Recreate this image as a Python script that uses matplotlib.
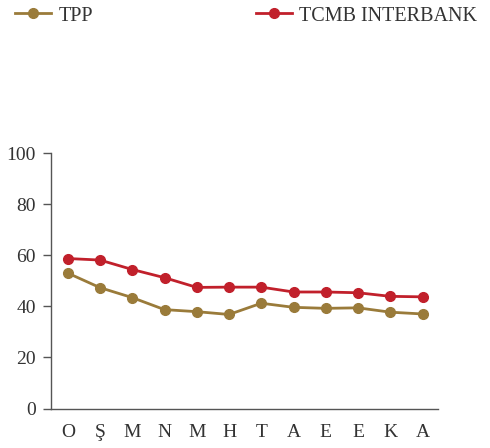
import matplotlib
matplotlib.use("Agg")
import matplotlib.pyplot as plt

months = ["O", "Ş", "M", "N", "M", "H", "T", "A", "E", "E", "K", "A"]
tpp = [53.0, 47.3, 43.4, 38.7, 37.9, 36.8, 41.2, 39.6, 39.2, 39.4, 37.7, 37.0]
tcmb = [58.7, 58.1, 54.4, 51.2, 47.4, 47.5, 47.5, 45.6, 45.6, 45.3, 43.9, 43.7]
yticks = [0, 20, 40, 60, 80, 100]

gold = "#9a7b3a"
red = "#c1202b"
txt = "#333333"

plt.rcParams['font.family'] = ['Liberation Serif', 'DejaVu Serif']

fig = plt.figure(figsize=(4.9, 4.48), dpi=100)
ax = fig.add_axes([51/490, 1-408.5/448, (438-51)/490, (408.5-153)/448])

x = list(range(len(months)))
l1, = ax.plot(x, tpp, color=gold, lw=2.0, marker='o', ms=7, zorder=3)
l2, = ax.plot(x, tcmb, color=red, lw=2.0, marker='o', ms=7, zorder=3)

ax.set_xlim(-0.52, 11.48)
ax.set_ylim(0, 100)
ax.set_yticks(yticks)
ax.set_xticks(x)
ax.set_xticklabels(months)
for s in ['top', 'right']:
    ax.spines[s].set_visible(False)
for s in ['left', 'bottom']:
    ax.spines[s].set_color('#555555')
    ax.spines[s].set_linewidth(1.0)
ax.tick_params(axis='y', length=6, width=1.0, color='#555555', labelsize=14, labelcolor=txt, pad=5)
ax.tick_params(axis='x', length=0, labelsize=14, labelcolor=txt, pad=11)

common = dict(frameon=False, fontsize=14.5, handlelength=1.8, handletextpad=0.35,
              labelcolor=txt, borderaxespad=0, borderpad=0.3, loc='center left')
fig.legend(handles=[l1], labels=["TPP"], bbox_to_anchor=(9/490, 1-16/448), **common)
fig.legend(handles=[l2], labels=["TCMB INTERBANK"], bbox_to_anchor=(250/490, 1-16/448), **common)

fig.savefig("out.png", dpi=100)
